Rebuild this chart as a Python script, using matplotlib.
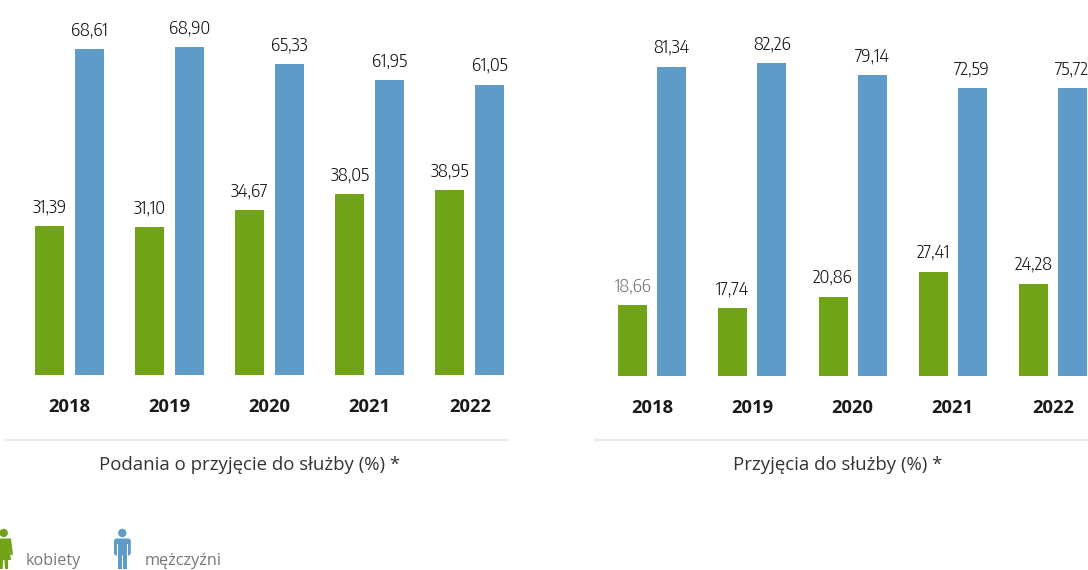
import matplotlib
matplotlib.use("Agg")
import matplotlib.pyplot as plt
from matplotlib import font_manager as fm
from matplotlib.font_manager import FontProperties
from matplotlib.patches import Circle, Polygon, FancyBboxPatch

years = ["2018", "2019", "2020", "2021", "2022"]
left_women = [31.39, 31.10, 34.67, 38.05, 38.95]
left_men = [68.61, 68.90, 65.33, 61.95, 61.05]
right_women = [18.66, 17.74, 20.86, 27.41, 24.28]
right_men = [81.34, 82.26, 79.14, 75.72, 75.72]   # 2021 bar is drawn taller than its label in the source
right_men_labels = ["81,34", "82,26", "79,14", "72,59", "75,72"]
left_title = "Podania o przyjęcie do służby (%) *"
right_title = "Przyjęcia do służby (%) *"
legend_labels = ["kobiety", "mężczyźni"]

GREEN = "#71a319"
BLUE = "#5f9bc8"
W, H = 1088, 570

def condensed_light():
    cands = [f for f in fm.fontManager.ttflist
             if "condensed" in f.name.lower() and "open" in f.name.lower()
             or "opensanscondensed" in f.fname.lower().replace("-", "").replace("_", "")]
    light = [f for f in cands if "light" in (f.name + f.fname.split("/")[-1]).lower()
             and "italic" not in f.fname.lower() and f.style == "normal"]
    if light:
        return FontProperties(fname=light[0].fname, size=13.2)
    for n in ["Encode Sans Condensed", "Asap Condensed", "Barlow Condensed"]:
        fl = [f for f in fm.fontManager.ttflist if n in f.name and "light" in f.fname.lower()
              and "extra" not in f.fname.lower() and "italic" not in f.fname.lower()]
        if fl:
            return FontProperties(fname=fl[0].fname, size=13.2)
    return FontProperties(family="Open Sans", size=11)

value_font = condensed_light()
plt.rcParams["font.family"] = ["Open Sans", "DejaVu Sans"]

fig = plt.figure(figsize=(W / 100, H / 100), dpi=100)

def fmt(v):
    return f"{v:.2f}".replace(".", ",")

def panel(x0, x1, base, first, step, off, scale, women, men, men_labels):
    ax = fig.add_axes([x0 / W, 1 - base / H, (x1 - x0) / W, base / H])
    ax.set_xlim((x0 - first) / step, (x1 - first) / step)
    ax.set_ylim(0, base / scale)
    pos = list(range(len(years)))
    w = 29 / step
    d = off / step
    ax.bar([p - d for p in pos], women, w, color=GREEN)
    ax.bar([p + d for p in pos], men, w, color=BLUE)
    for p, a, b, lab in zip(pos, women, men, men_labels):
        col = "#777777" if a == 18.66 else "#111111"
        ax.annotate(fmt(a), (p - d, a), xytext=(0, 7), textcoords="offset points", ha="center",
                    va="bottom", fontproperties=value_font, color=col, annotation_clip=False)
        ax.annotate(lab, (p + d, b), xytext=(0, 7), textcoords="offset points",
                    ha="center", va="bottom", fontproperties=value_font, color="#111111",
                    annotation_clip=False)
    ax.set_xticks(pos, years, fontsize=13.2, fontweight="bold", color="#1a1a1a")
    ax.tick_params(axis="x", length=0, pad=16.5)
    ax.set_yticks([])
    for s in ax.spines.values():
        s.set_visible(False)
    ax.patch.set_alpha(0)
    return ax

panel(6, 508, 375, 69.5, 100.1, 20, 4.755, left_women, left_men, [fmt(v) for v in left_men])
panel(595, 1088, 376, 652.2, 100.15, 19.5, 3.805, right_women, right_men, right_men_labels)

ov = fig.add_axes([0, 0, 1, 1])
ov.set_xlim(0, W)
ov.set_ylim(H, 0)
ov.axis("off")
ov.patch.set_alpha(0)
ov.plot([6, 508], [440, 440], color="#e9e9ee", lw=1.6)
ov.plot([595, 1088], [440, 440], color="#e9e9ee", lw=1.6)
ov.text(249.5, 465.5, left_title, ha="center", va="center", fontsize=13.4, color="#333333")
ov.text(838, 465.5, right_title, ha="center", va="center", fontsize=13.4, color="#333333")

# woman icon
ov.add_patch(Circle((3.7, 533), 4.2, color=GREEN, lw=0))
ov.add_patch(Polygon([(-6, 538.5), (11, 538.5), (13, 555), (10.5, 555), (9, 546), (11, 560), (8, 560),
                      (8, 569), (5, 569), (4.4, 560), (3.2, 560), (2.6, 569), (-1, 569), (-1, 560), (-4, 560)],
                     closed=True, color=GREEN, lw=0))
# man icon
ov.add_patch(Circle((122.3, 533), 4.2, color=BLUE, lw=0))
ov.add_patch(FancyBboxPatch((114, 538.5), 16.8, 17, boxstyle="round,pad=0,rounding_size=2.5", color=BLUE, lw=0))
ov.add_patch(Polygon([(117.8, 545), (127, 545), (127, 569), (123.1, 569), (123.1, 552), (121.7, 552), (121.7, 569), (117.8, 569)],
                     closed=True, color=BLUE, lw=0))
ov.add_patch(Polygon([(116.7, 544), (117.8, 544), (117.8, 556), (116.7, 556)], closed=True, color="white", lw=0))
ov.add_patch(Polygon([(127, 544), (128.1, 544), (128.1, 556), (127, 556)], closed=True, color="white", lw=0))
ov.text(26, 561, legend_labels[0], ha="left", va="center", fontsize=11.7, color="#777777")
ov.text(145, 561, legend_labels[1], ha="left", va="center", fontsize=11.7, color="#777777")

fig.savefig("out.png", dpi=100)
